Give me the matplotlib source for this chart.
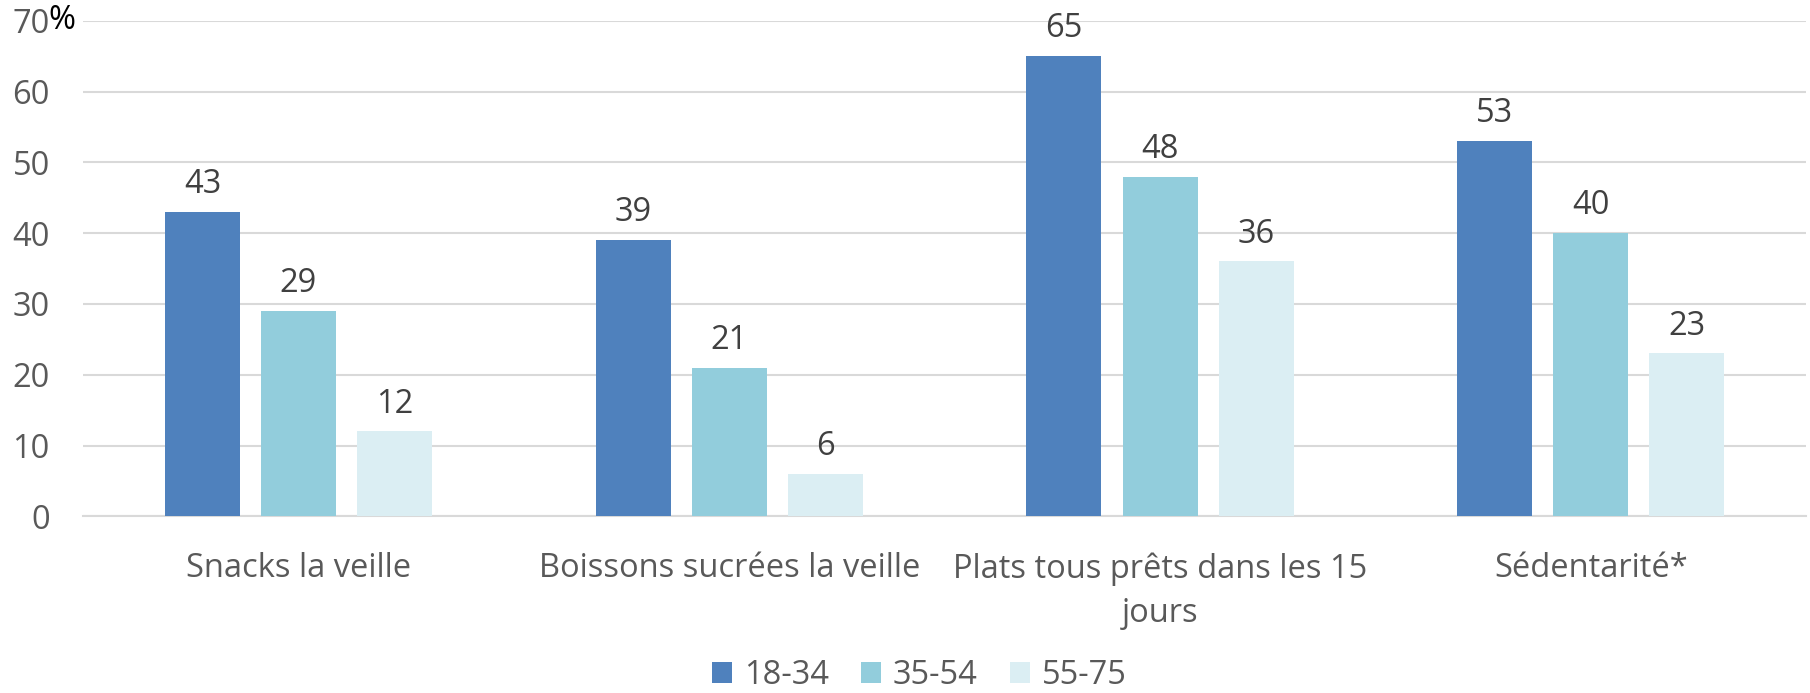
import matplotlib
matplotlib.use("Agg")
import matplotlib.pyplot as plt
import numpy as np

categories = ["Snacks la veille", "Boissons sucrées la veille",
              "Plats tous prêts dans les 15\njours", "Sédentarité*"]
series_names = ["18-34", "35-54", "55-75"]
v_18_34 = [43, 39, 65, 53]
v_35_54 = [29, 21, 48, 40]
v_55_75 = [12, 6, 36, 23]
values = [v_18_34, v_35_54, v_55_75]
colors = ["#4F81BD", "#92CDDC", "#DBEEF3"]
yticks = [0, 10, 20, 30, 40, 50, 60, 70]

plt.rcParams['font.family'] = ['Open Sans', 'DejaVu Sans']
txt = "#595959"
FS = 23.5

fig = plt.figure(figsize=(18.10, 6.93), dpi=100)
ax = fig.add_axes([0.0459, 0.255, 0.952, 0.715])

x = np.arange(len(categories))
bw = 0.174
pitch = 0.223
for i, (vals, c, name) in enumerate(zip(values, colors, series_names)):
    pos = x + (i - 1) * pitch
    ax.bar(pos, vals, width=bw, color=c, label=name, zorder=3)
    for p, v in zip(pos, vals):
        ax.annotate(str(v), (p, v), xytext=(0, 13.5), textcoords="offset points",
                    ha="center", va="baseline", fontsize=FS, color="#404040")

ax.set_xlim(-0.5, 3.5)
ax.set_ylim(0, 70)
ax.set_yticks(yticks)
ax.set_yticklabels([str(t) for t in yticks], fontsize=FS, color=txt)
ax.yaxis.grid(True, color="#D9D9D9", linewidth=1.5, zorder=0)
ax.set_axisbelow(True)
for s in ["top", "right", "left"]:
    ax.spines[s].set_visible(False)
ax.spines["bottom"].set_color("#D9D9D9")
ax.spines["bottom"].set_linewidth(1.5)
ax.tick_params(axis="y", length=0, pad=24)
ax.tick_params(axis="x", length=0, pad=26)
ax.set_xticks(x)
ax.set_xticklabels(categories, fontsize=FS, color=txt, linespacing=1.45)

# percent sign after top tick
ax.annotate("%", xy=(0, 70), xycoords=("axes fraction", "data"),
            xytext=(-25, 0), textcoords="offset points",
            ha="left", va="center", fontsize=FS, color="black")

fig.legend(loc="center", bbox_to_anchor=(0.508, 0.025), ncol=3, frameon=False,
           fontsize=FS, labelcolor=txt, handlelength=0.61, handleheight=0.61,
           handletextpad=0.35, columnspacing=1.0, borderpad=0.1)

fig.savefig("out.png", dpi=100)
